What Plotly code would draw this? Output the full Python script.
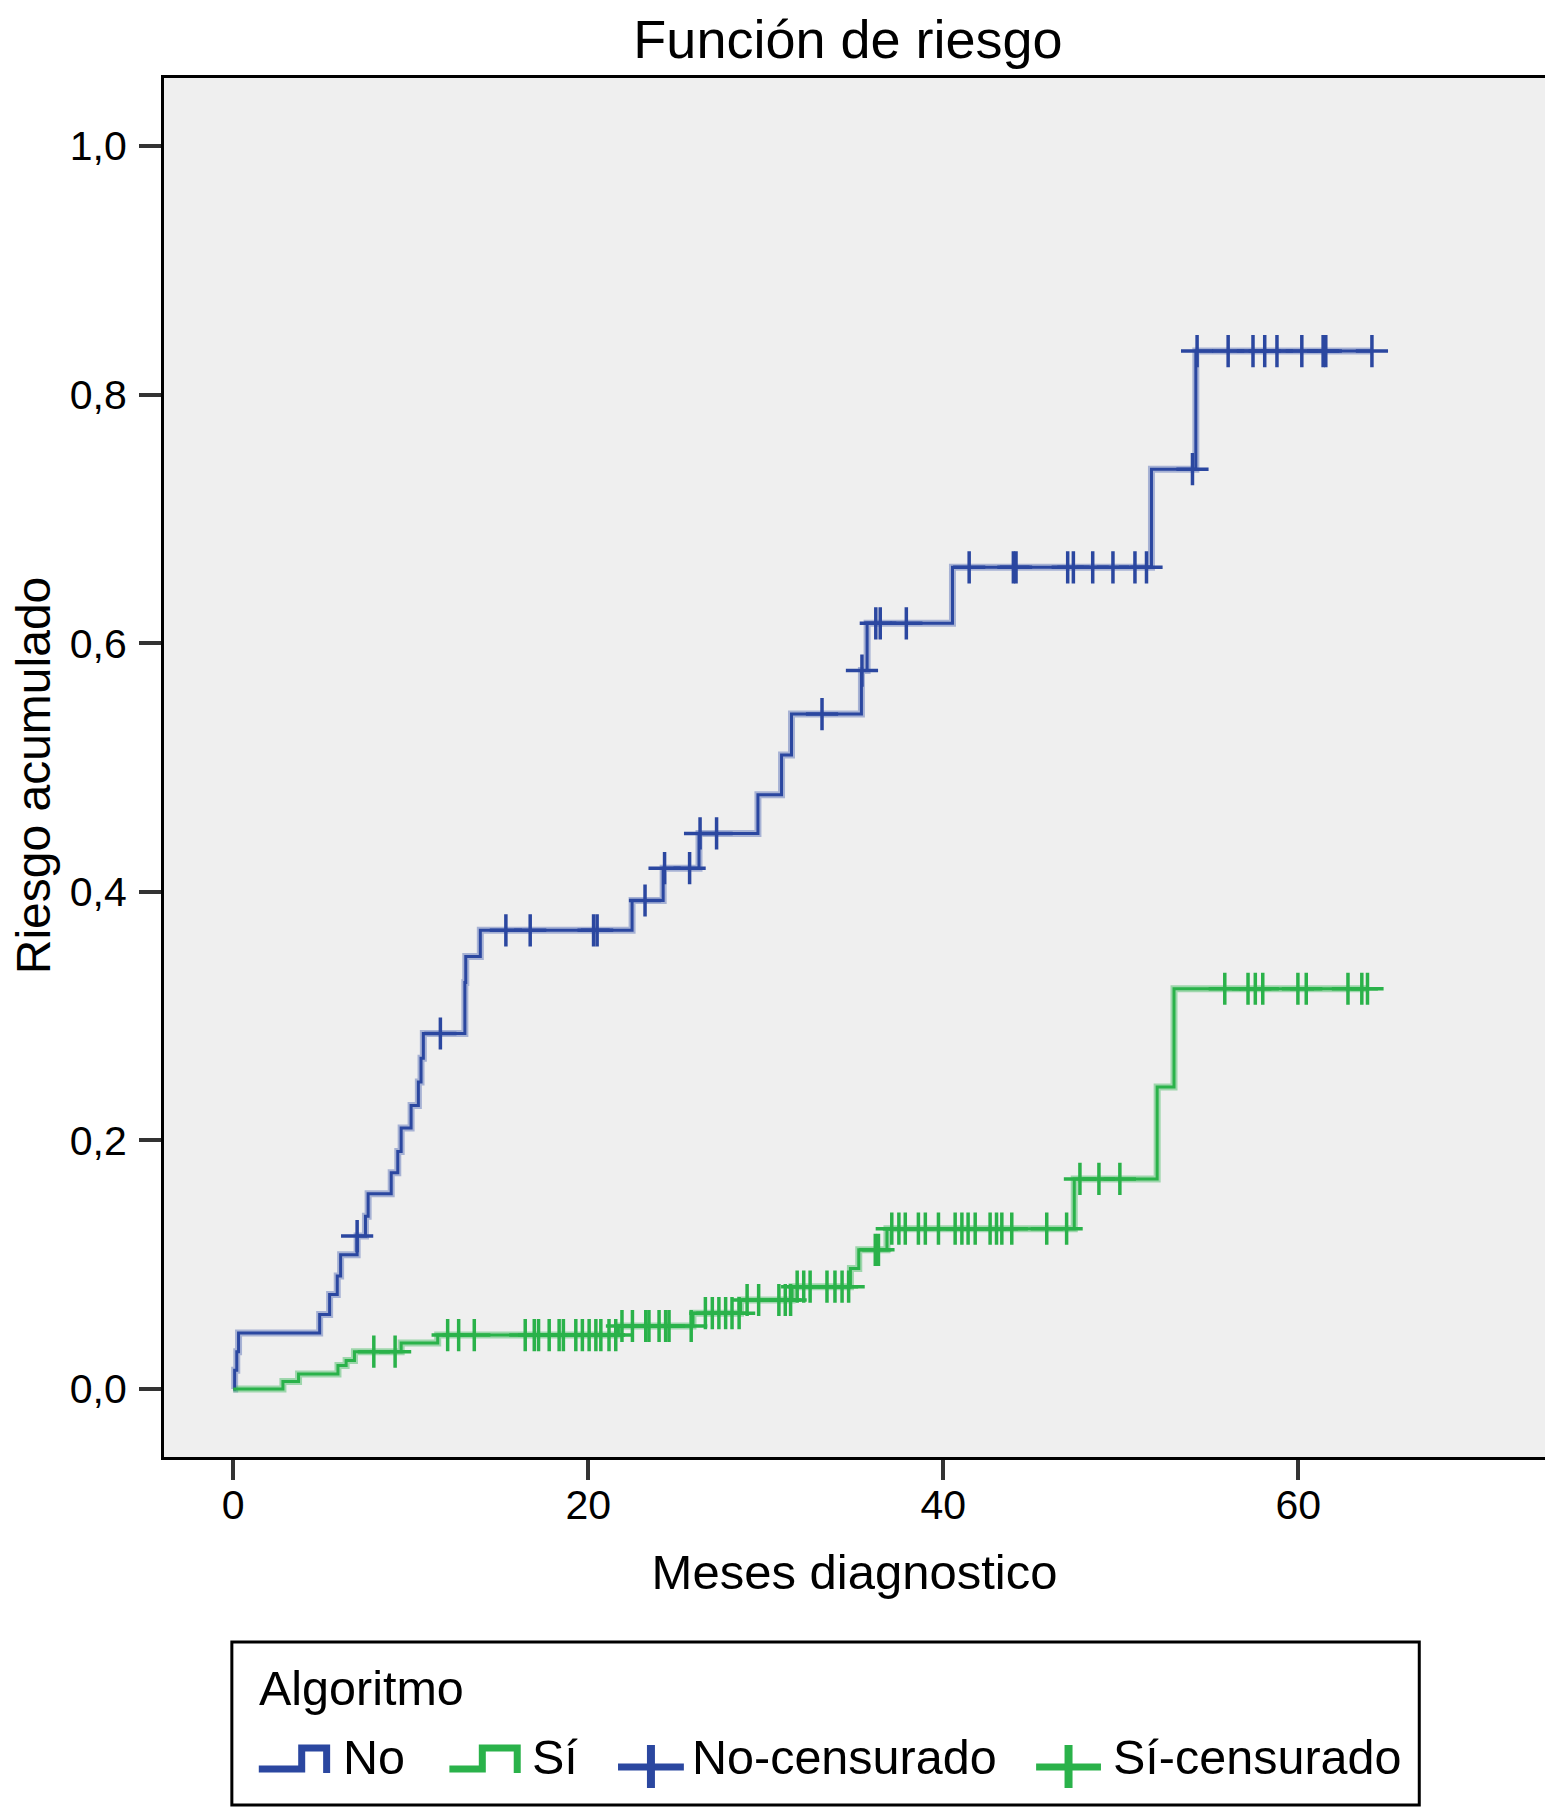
import plotly.graph_objects as go

# ---------------- data ----------------
# Step function "No" (time in months, cumulative hazard)
no_t = [0, 0.08, 0.2, 0.3, 4.87, 5.43, 5.86, 6.05, 6.98, 7.45, 7.6, 8.9, 9.27, 9.46,
        10.02, 10.43, 10.58, 10.71, 13.05, 13.1, 13.92, 22.47, 24.22, 26.24, 29.56,
        30.89, 31.45, 35.39, 35.71, 40.52, 51.73, 54.23, 64.15]
no_v = [0, 0.015, 0.03, 0.045, 0.060, 0.076, 0.091, 0.108, 0.123, 0.139, 0.157, 0.174,
        0.191, 0.210, 0.228, 0.247, 0.266, 0.286, 0.327, 0.348, 0.369, 0.393, 0.419,
        0.447, 0.478, 0.510, 0.543, 0.578, 0.616, 0.661, 0.740, 0.835, 0.835]

# Censored observations "No"
no_cens_t = [6.98, 11.67, 15.36, 16.73, 20.3, 20.5, 23.2, 24.3, 25.71, 26.3, 27.23,
             33.17, 35.42, 36.2, 36.45, 37.92, 41.46, 43.95, 44.1, 47.01, 47.33, 48.42,
             49.56, 50.8, 51.45, 54.04, 54.3, 56.05, 57.45, 58.11, 58.8, 60.2, 61.4,
             61.55, 64.15]
no_cens_v = [0.123, 0.286, 0.369, 0.369, 0.369, 0.369, 0.393, 0.419, 0.419, 0.447, 0.447,
             0.543, 0.578, 0.616, 0.616, 0.616, 0.661, 0.661, 0.661, 0.661, 0.661, 0.661,
             0.661, 0.661, 0.661, 0.740, 0.835, 0.835, 0.835, 0.835, 0.835, 0.835, 0.835,
             0.835, 0.835]

# Step function "Sí"
si_t = [0, 2.8, 3.68, 5.9, 6.36, 6.83, 9.46, 11.52, 21.7, 25.9, 28.58, 31.48, 34.77,
        35.24, 36.83, 47.38, 52.05, 53.0, 63.9]
si_v = [0, 0.006, 0.012, 0.019, 0.023, 0.030, 0.037, 0.0434, 0.0507, 0.061, 0.0716,
        0.0823, 0.097, 0.112, 0.129, 0.169, 0.243, 0.322, 0.322]

# Censored observations "Sí"
si_cens_t = [7.92, 9.12, 12.08, 12.7, 13.58,
             16.45, 16.96, 17.2, 17.8, 18.36, 18.6, 19.3, 19.67, 20.05, 20.43, 20.71, 21.17, 21.55,
             21.9, 22.49, 23.24, 23.42, 23.99, 24.36, 24.55, 25.8,
             26.6, 26.99, 27.36, 27.74, 28.1, 28.5,
             28.95, 29.6, 30.74, 31.1, 31.4,
             31.77, 32.14, 32.5, 33.45, 33.9, 34.3, 34.67,
             36.17, 36.35,
             37.1, 37.5, 37.86, 38.6, 38.99, 39.73, 40.67, 41.05, 41.4, 41.8, 42.64, 43.0,
             43.3, 43.86, 45.83, 46.95,
             47.7, 48.77, 49.95,
             55.86, 57.17, 57.58, 58.0, 59.98, 60.45, 62.8, 63.58, 63.9]
si_cens_v = ([0.030] * 2 + [0.0434] * 3 + [0.0434] * 13 + [0.0507] * 8 + [0.061] * 6 +
             [0.0716] * 5 + [0.0823] * 7 + [0.112] * 2 + [0.129] * 16 + [0.169] * 3 +
             [0.322] * 9)

x_ticks = [0, 20, 40, 60]
y_ticks = [0, 0.2, 0.4, 0.6, 0.8, 1.0]

series_names = ["No", "Sí", "No-censurado", "Sí-censurado"]
legend_title = "Algoritmo"

# ---------------- style ----------------
BLUE = "#2b47a0"
GREEN = "#2ab24a"
BLUE_HALO = "rgba(80,105,180,0.45)"
GREEN_HALO = "rgba(60,185,90,0.45)"
FONT = "Liberation Sans, Arial, sans-serif"

# page geometry (the page body adds an 8 px offset)
OFF = 8
FIG_W, FIG_H = 1553 - OFF, 1807 - OFF
PL, PR, PT, PB = 164, 1548, 78, 1457          # plot area on the page
PW, PH = PR - PL, PB - PT


def px(X):
    return (X - PL) / PW


def py(Y):
    return (PB - Y) / PH


fig = go.Figure()

# soft halos under the core lines
fig.add_trace(go.Scatter(x=no_t, y=no_v, mode="lines", line=dict(color=BLUE_HALO, width=7, shape="hv"),
                         showlegend=False, hoverinfo="skip"))
fig.add_trace(go.Scatter(x=si_t, y=si_v, mode="lines", line=dict(color=GREEN_HALO, width=7, shape="hv"),
                         showlegend=False, hoverinfo="skip"))

fig.add_trace(go.Scatter(x=no_t, y=no_v, mode="lines", name=series_names[0],
                         line=dict(color=BLUE, width=3, shape="hv"), showlegend=False))
fig.add_trace(go.Scatter(x=si_t, y=si_v, mode="lines", name=series_names[1],
                         line=dict(color=GREEN, width=3, shape="hv"), showlegend=False))
fig.add_trace(go.Scatter(x=no_cens_t, y=no_cens_v, mode="markers", name=series_names[2],
                         marker=dict(symbol="cross-thin", size=23, color=BLUE,
                                     line=dict(color=BLUE, width=3.5)), showlegend=False))
fig.add_trace(go.Scatter(x=si_cens_t, y=si_cens_v, mode="markers", name=series_names[3],
                         marker=dict(symbol="cross-thin", size=23, color=GREEN,
                                     line=dict(color=GREEN, width=3.5)), showlegend=False))

# ---------------- custom legend (SPSS style) ----------------
shapes = []
annotations = []
# box
shapes.append(dict(type="rect", xref="paper", yref="paper",
                   x0=px(232), x1=px(1422), y0=py(1642), y1=py(1805),
                   line=dict(color="black", width=3), fillcolor="white", layer="above"))


def step_icon(x0, xm, x1, color):
    pts = [(x0, 1769), (xm, 1769), (xm, 1748), (x1, 1748), (x1, 1773)]
    path = "M " + " L ".join(f"{px(a):.5f},{py(b):.5f}" for a, b in pts)
    return dict(type="path", xref="paper", yref="paper", path=path,
                line=dict(color=color, width=7), layer="above")


def cross_icon(x0, x1, color):
    xc = (x0 + x1) / 2
    return [dict(type="line", xref="paper", yref="paper", x0=px(x0), x1=px(x1),
                 y0=py(1767), y1=py(1767), line=dict(color=color, width=7), layer="above"),
            dict(type="line", xref="paper", yref="paper", x0=px(xc), x1=px(xc),
                 y0=py(1745), y1=py(1788), line=dict(color=color, width=8), layer="above")]


shapes.append(step_icon(259, 302, 327, BLUE))
shapes.append(step_icon(450, 483, 518, GREEN))
shapes += cross_icon(619, 685, BLUE)
shapes += cross_icon(1038, 1103, GREEN)

LEG_FONT = dict(size=48.5, family=FONT, color="black")
annotations.append(dict(text=legend_title, xref="paper", yref="paper", x=px(257), y=py(1688),
                        xanchor="left", yanchor="middle", showarrow=False, font=LEG_FONT))
for name, xl in zip(series_names, [341, 531, 691, 1113]):
    annotations.append(dict(text=name, xref="paper", yref="paper", x=px(xl), y=py(1757),
                            xanchor="left", yanchor="middle", showarrow=False, font=LEG_FONT))

# y axis title placed as rotated annotation
annotations.append(dict(text="Riesgo acumulado", xref="paper", yref="paper",
                        x=px(33), y=py(775), xanchor="center", yanchor="middle",
                        textangle=-90, showarrow=False,
                        font=dict(size=48, family=FONT, color="black")))

fig.update_layout(
    width=FIG_W, height=FIG_H,
    margin=dict(l=PL - OFF, r=FIG_W - (PR - OFF), t=PT - OFF, b=FIG_H - (PB - OFF)),
    paper_bgcolor="white",
    plot_bgcolor="#efefef",
    separators=",.",
    font=dict(family=FONT, color="black", size=41),
    title=dict(text="Función de riesgo", x=(848 - OFF) / FIG_W, xanchor="center", xref="container",
               y=1 - 31 / FIG_H, yref="container", yanchor="middle",
               font=dict(size=54, family=FONT, color="black")),
    showlegend=False,
    shapes=shapes,
    annotations=annotations,
)

fig.update_xaxes(
    range=[-3.9, 73.9], tickmode="array", tickvals=x_ticks,
    ticks="outside", ticklen=20, tickwidth=4, tickcolor="#333333",
    showline=True, linecolor="black", linewidth=3, mirror=True,
    showgrid=False, zeroline=False,
    tickfont=dict(size=41, family=FONT, color="black"),
    ticklabelstandoff=-10,
    title=dict(text="Meses diagnostico", font=dict(size=49, family=FONT, color="black"), standoff=28),
)
fig.update_yaxes(
    range=[-0.0547, 1.0547], tickmode="array", tickvals=y_ticks, tickformat=".1f",
    ticks="outside", ticklen=22, tickwidth=4, tickcolor="#333333",
    showline=True, linecolor="black", linewidth=3, mirror=True,
    showgrid=False, zeroline=False,
    tickfont=dict(size=41, family=FONT, color="black"),
    ticklabelstandoff=4,
)

fig.write_html("out.html")
